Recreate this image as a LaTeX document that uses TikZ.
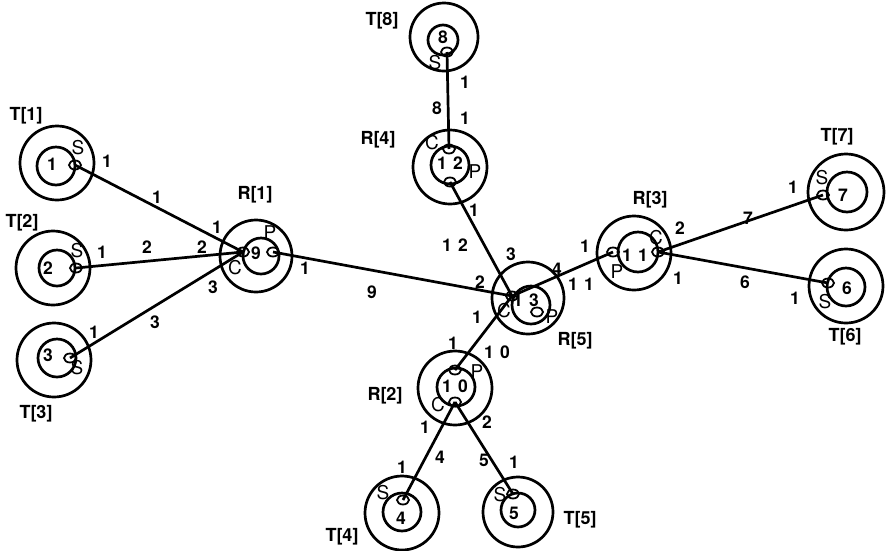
\documentclass[tikz,border=0pt]{standalone}
\usepackage{fontspec}
\usetikzlibrary{shapes.geometric}
\setmainfont{TeX Gyre Heros}
\newcommand{\mygap}{\hspace{0.35em}}
\begin{document}
\begin{tikzpicture}[x=1pt,y=-1pt,
  outer/.style={circle, draw, line width=2.7pt, minimum size=74pt, inner sep=0pt},
  innr/.style={circle, draw, line width=2.7pt, minimum size=38pt, inner sep=0pt},
  port/.style={ellipse, draw, line width=1.8pt, minimum width=12pt, minimum height=9pt, inner sep=0pt},
  num/.style={font=\fontsize{17.5}{17.5}\selectfont\bfseries, inner sep=0pt},
  lbl/.style={font=\fontsize{18}{18}\selectfont\bfseries, inner sep=0pt},
  pl/.style={font=\fontsize{19}{19}\selectfont, inner sep=0pt},
  link/.style={line width=2.7pt}]
\fill[white] (0,0) rectangle (886,550);
\useasboundingbox (0,0) rectangle (886,550);

% ---------- T nodes ----------
\node[outer] (T1o) at (57,163) {};
\node[innr]  (T1i) at (56,166) {};
\node[num]   (T1n) at (52,164) {1};
\node[lbl]   (T1l) at (26,116) {T[1]};

\node[outer] (T2o) at (53,268) {};
\node[innr, minimum size=36pt] (T2i) at (57,268) {};
\node[num]   (T2n) at (48,268) {2};
\node[lbl]   (T2l) at (22,223) {T[2]};

\node[outer] (T3o) at (54,360) {};
\node[innr]  (T3i) at (57,358) {};
\node[num]   (T3n) at (48,355) {3};
\node[lbl]   (T3l) at (36,414) {T[3]};

\node[outer] (T4o) at (402,513) {};
\node[innr]  (T4i) at (402,512) {};
\node[num]   (T4n) at (401,518) {4};
\node[lbl]   (T4l) at (342,537) {T[4]};

\node[outer, minimum size=70pt] (T5o) at (518,512) {};
\node[innr, minimum size=34pt]  (T5i) at (518,510) {};
\node[num]   (T5n) at (514,513) {5};
\node[lbl]   (T5l) at (580,520) {T[5]};

\node[outer] (T6o) at (846,286) {};
\node[innr]  (T6i) at (846,287) {};
\node[num]   (T6n) at (847,288) {6};
\node[lbl]   (T6l) at (845,337) {T[6]};

\node[outer, minimum size=76pt] (T7o) at (846,192) {};
\node[innr, minimum size=40pt]  (T7i) at (847,192) {};
\node[num]   (T7n) at (843,195) {7};
\node[lbl]   (T7l) at (837,137) {T[7]};

\node[outer, minimum size=68pt] (T8o) at (444,37) {};
\node[innr, minimum size=30pt]  (T8i) at (443,40) {};
\node[num]   (T8n) at (443,37) {8};
\node[lbl]   (T8l) at (382,21) {T[8]};

% ---------- R nodes ----------
\node[outer, minimum size=72pt] (R1o) at (256,256) {};
\node[innr, minimum size=36pt]  (R1i) at (261,256) {};
\node[num]   (R1n) at (256,253) {9};
\node[lbl]   (R1l) at (255,195) {R[1]};

\node[outer] (R2o) at (455,388) {};
\node[innr]  (R2i) at (456,387) {};
\node[num]   (R2n) at (455,386) {1\mygap 0};
\node[lbl]   (R2l) at (385,396) {R[2]};

\node[outer] (R3o) at (634,253) {};
\node[innr, minimum size=40pt]  (R3i) at (638,252) {};
\node[num]   (R3n) at (635,255) {1\mygap 1};
\node[lbl]   (R3l) at (650,200) {R[3]};

\node[outer] (R4o) at (450,167) {};
\node[innr]  (R4i) at (450,165) {};
\node[num]   (R4n) at (450,163) {1\mygap 2};
\node[lbl]   (R4l) at (378,140) {R[4]};

\node[outer, minimum size=72pt] (R5o) at (528,298) {};
\node[innr]  (R5i) at (531,305) {};
\node[num]   (R5n) at (526,300) {1\mygap 3};
\node[lbl]   (R5l) at (575,341) {R[5]};

% ---------- ports ----------
\node[port] (t1s) at (75,165) {};
\node[port] (t2s) at (76,268) {};
\node[port] (t3s) at (70,358) {};
\node[port] (t4s) at (403,500) {};
\node[port] (t5s) at (513,494) {};
\node[port] (t6s) at (828,283) {};
\node[port] (t7s) at (823,195) {};
\node[port] (t8s) at (447,52) {};
\node[port] (r1c) at (243,252) {};
\node[port] (r1p) at (273,252) {};
\node[port] (r2p) at (455,370) {};
\node[port] (r2c) at (455,402) {};
\node[port] (r3p) at (613,252) {};
\node[port] (r3c) at (658,252) {};
\node[port] (r4c) at (449,149) {};
\node[port] (r4p) at (450,182) {};
\node[port] (r5c) at (512,296) {};
\node[port] (r5p) at (537,312) {};

% port letters
\node[pl] (t1sl) at (78,148) {S};
\node[pl] (t2sl) at (77,251) {S};
\node[pl] (t3sl) at (77,368) {S};
\node[pl] (t4sl) at (383,493) {S};
\node[pl] (t5sl) at (500,495) {S};
\node[pl] (t6sl) at (825,302) {S};
\node[pl] (t7sl) at (822,178) {S};
\node[pl] (t8sl) at (435,63) {S};
\node[pl] (r1cl) at (235,268) {C};
\node[pl] (r1pl) at (270,233) {P};
\node[pl] (r2pl) at (477,372) {P};
\node[pl] (r2cl) at (438,405) {C};
\node[pl] (r3pl) at (617,272) {P};
\node[pl] (r3cl) at (656,238) {C};
\node[pl] (r4cl) at (432,143) {C};
\node[pl] (r4pl) at (475,172) {P};
\node[pl] (r5cl) at (504,311) {C};
\node[pl] (r5pl) at (552,317) {P};

% ---------- links ----------
\draw[link] (t1s.center) -- (r1c.center);
\draw[link] (t2s.center) -- (r1c.center);
\draw[link] (t3s.center) -- (r1c.center);
\draw[link] (r1p.center) -- (r5c.center);
\draw[link] (r4p.center) -- (r5c.center);
\draw[link] (t8s.center) -- (r4c.center);
\draw[link] (r5c.center) -- (r3p.center);
\draw[link] (r5c.center) -- (r2p.center);
\draw[link] (r2c.center) -- (t4s.center);
\draw[link] (r2c.center) -- (t5s.center);
\draw[link] (r3c.center) -- (t7s.center);
\draw[link] (r3c.center) -- (t6s.center);

% ---------- link labels ----------
\node[num] (e1a) at (107,161) {1};
\node[num] (e1b) at (157,197) {1};
\node[num] (e1c) at (217,227) {1};
\node[num] (e2a) at (102,252) {1};
\node[num] (e2b) at (147,247) {2};
\node[num] (e2c) at (202,247) {2};
\node[num] (e3a) at (94,332) {1};
\node[num] (e3b) at (155,322) {3};
\node[num] (e3c) at (213,287) {3};
\node[num] (e9a) at (305,268) {1};
\node[num] (e9b) at (372,292) {9};
\node[num] (e9c) at (480,282) {2};
\node[num] (e12a) at (474,210) {1};
\node[num] (e12b) at (455,245) {1\mygap 2};
\node[num] (e12c) at (511,254) {3};
\node[num] (e8a) at (465,82) {1};
\node[num] (e8b) at (437,108) {8};
\node[num] (e8c) at (465,118) {1};
\node[num] (e11a) at (557,269) {4};
\node[num] (e11b) at (581,284) {1\mygap 1};
\node[num] (e11c) at (585,246) {1};
\node[num] (e10a) at (477,317) {1};
\node[num] (e10b) at (497,352) {1\mygap 0};
\node[num] (e10c) at (453,343) {1};
\node[num] (e4a) at (425,427) {1};
\node[num] (e4b) at (440,457) {4};
\node[num] (e4c) at (402,467) {1};
\node[num] (e5a) at (487,422) {2};
\node[num] (e5b) at (484,460) {5};
\node[num] (e5c) at (514,462) {1};
\node[num] (e7a) at (680,228) {2};
\node[num] (e7b) at (748,218) {7};
\node[num] (e7c) at (793,187) {1};
\node[num] (e6a) at (678,278) {1};
\node[num] (e6b) at (745,282) {6};
\node[num] (e6c) at (795,298) {1};
\end{tikzpicture}
\end{document}
